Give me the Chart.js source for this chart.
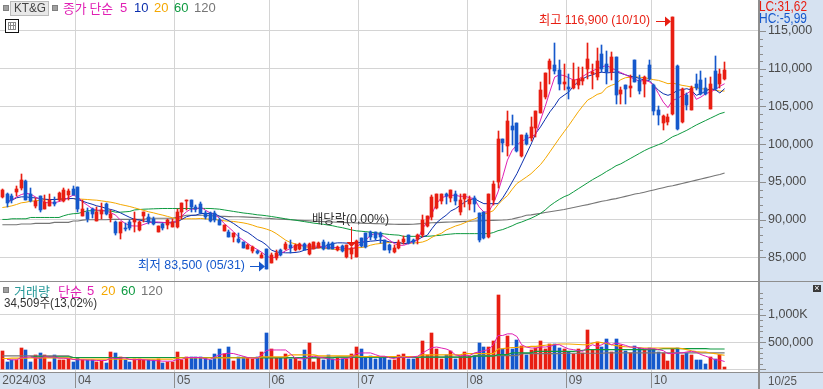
<!DOCTYPE html>
<html lang="ko"><head><meta charset="utf-8">
<style>html,body{margin:0;padding:0;background:#fff;overflow:hidden}canvas{display:block}</style>
<script src="https://cdn.jsdelivr.net/npm/chart.js@4/dist/chart.umd.min.js"></script>
</head><body><canvas id="c" width="823" height="389"></canvas>
<script>
const opens=[93030,93400,93100,93680,94170,95100,93460,91840,93100,91400,91840,92370,92680,92500,93330,94030,
94300,90530,91050,91360,89870,90790,92060,90180,89700,88250,88900,89700,89700,88640,90480,90310,90050,88380,89390,89300,89040,
89040,91050,92590,92680,91710,92150,90900,90830,90830,89940,88530,88400,87740,87430,87080,86190,85840,85840,84960,86100,
84300,84870,86050,86190,86630,85970,86190,86770,85440,86190,86320,87080,86850,86940,85970,86500,85090,85500,85090,
87520,88180,88400,88400,88300,87300,86630,85750,86320,87050,87930,87360,87400,87930,89130,90370,91560,92480,93450,92920,93450,91030,92790,92130,
92920,90900,91030,87710,92660,95000,100700,99820,102420,102760,98470,101180,100790,102100,104170,106270,110000,110440,109780,108030,
107590,107500,107900,108330,110000,109250,108900,111970,110660,109560,111540,106700,107800,107490,111190,108460,108020,110440,
107800,104590,102830,102960,104060,110310,102960,106480,104590,108020,108460,107490,104720,109650,108020,108680];
const closes=[93900,92250,92650,94030,95220,92680,92500,92500,91270,92370,92590,92060,93550,93900,93770,93330,
91360,91400,90050,90700,90970,91270,90750,90700,88250,89700,88730,88900,90050,89740,91050,89700,89430,89170,88860,89960,89700,
91050,92200,92680,91670,91400,90830,90300,89850,89940,89370,89280,87740,88180,86990,86320,86630,86410,85530,85310,83540,
85310,85660,85310,86850,86320,86630,86770,85970,86850,86990,86940,86060,86190,86190,86410,85880,86630,86200,87170,
86500,86370,87740,87520,87740,85970,85970,86320,87080,87490,86920,87050,87930,90010,90460,93010,93450,93450,93100,93900,92480,92660,93370,92790,
92130,87270,87620,93450,94780,100700,100220,103070,101890,99160,101230,100040,102240,104390,107240,109430,110970,109690,108030,108240,
107370,108470,108690,108800,111320,109560,110970,110000,109560,111540,106480,107140,107360,107670,108240,107050,108900,108680,
104410,103840,103710,103620,116900,102080,107360,105160,107490,107490,106610,106610,107930,107360,109250,109870];
const highs=[94100,93600,93460,94430,96000,95200,94250,92940,93100,93240,93380,93030,93680,94250,94120,94430,
94300,92590,91490,91490,91710,92240,92240,91270,89870,89700,89600,89960,91050,89830,91050,90750,90310,89170,89520,90050,90050,
91360,92200,92680,92680,91930,92370,91180,91050,91180,90170,89280,88620,88270,88180,87080,86850,86500,85970,85530,86100,
85530,85970,86190,87080,87300,86850,86940,86940,86940,87080,87000,87380,86990,87080,86500,86630,86630,86400,87300,
87520,88180,88530,88400,88400,87380,86850,86630,87300,87800,87930,87450,88160,90590,90460,93230,93450,93450,93590,93900,93810,93450,93370,93100,
93100,90900,91030,93450,95130,101700,100700,104390,103860,102760,101230,101540,103550,104390,108240,109430,111230,113470,111100,110660,
109340,110790,110220,110220,113420,110660,112760,113200,112410,112200,111540,107580,107800,109120,111190,109120,108990,111190,
108020,105030,103840,104060,116900,110440,107490,106790,107670,109340,109690,108810,108900,111630,109910,110880];
const lows=[92900,91700,92250,93100,93900,92590,92370,91580,91050,91360,91800,91840,92500,92370,92590,93240,
91050,90490,89700,90180,89830,90090,90620,89650,87980,87500,88550,88640,88420,88550,89740,89430,89300,88380,88640,88730,89000,
88860,90050,91270,91050,91050,90740,90050,89720,89720,89240,88530,87650,87080,86940,86320,86100,85530,85440,84870,83500,
84290,84700,85220,85970,85660,85880,85970,85970,85310,86100,86280,85970,86100,86100,85880,85790,84870,84780,85000,
86410,86200,87300,87300,86940,85970,85660,85660,86190,86830,86830,86740,86830,87710,89040,90010,91470,92040,92130,92350,91910,90590,91690,91340,
91030,87050,87490,87620,91910,94150,99020,98470,99910,99030,98280,99910,100440,101000,104080,106050,107940,109340,107150,107150,
106050,107370,107370,107810,108600,107370,108470,109560,108030,108460,105380,105380,105380,106260,108240,106700,106260,108460,
103840,102520,101860,102520,103840,101950,102830,104590,104500,107140,106480,106480,104630,107230,107490,108460];
const ma5=[null,92370,92590,93030,93330,93510,93380,93030,92680,92280,92240,92240,92410,92590,92940,93250,
93030,92370,91930,91490,91270,91270,91140,90920,90610,89960,89520,89210,89170,89170,89390,89610,89700,89700,89650,89610,89520,
89960,90480,91050,91450,91360,91710,91270,90920,90740,90170,89500,88970,88400,87740,87300,86850,86410,86060,85660,85180,
84910,85090,85530,85880,86190,86500,86630,86590,86500,86500,86500,86410,86320,86320,86320,86240,86150,86190,86320,
86940,87300,87960,88180,88050,87740,87300,86850,86630,86610,86830,87050,87360,88820,89700,90810,92130,92920,93100,93230,93230,93100,93100,92920,
92790,91690,91030,91030,92130,93680,95700,97900,99200,99900,100400,100700,101000,101300,103200,105000,107000,108900,109200,109100,
108800,108500,108600,109000,109400,109700,110000,110250,110440,110100,109780,109500,109200,108900,108600,108350,108460,108300,
107800,106700,105600,104850,105820,106040,106480,106700,107140,105950,106260,106700,106920,107230,107670,108020];
const ma10=[null,92370,92590,92900,93030,93030,92940,92900,92810,92720,92680,92680,92720,92760,92810,92810,
92680,92460,92240,92060,91840,91710,91490,91360,91190,90920,90610,90310,90040,89960,89820,89740,89650,89610,89610,89610,89700,
89700,90040,90400,90570,90610,90830,90830,90830,90780,90470,90170,89860,89500,89060,88620,88310,87870,87380,87080,86630,
85970,85750,85660,85620,85620,85660,85750,85970,86100,86190,86320,86410,86630,86850,86940,86940,86900,86850,86940,
86990,87080,87160,87210,87300,87210,87080,86990,86990,86830,86920,87190,87360,87720,87940,88820,89610,90140,90590,91160,91470,91910,92350,92660,
92790,92440,92130,92130,92130,92130,92900,93900,95000,96100,97400,98700,100000,101440,102300,103300,104300,105100,106050,106500,
106930,107700,108300,108700,109000,109200,109430,109550,109450,109500,109560,109400,109200,109000,108900,108700,108500,108460,
107800,107140,106700,106480,106700,107140,107230,107360,107140,106480,106700,107050,107360,107230,106790,107360];
const ma20=[91620,91710,91840,92020,92240,92320,92460,92500,92590,92630,92680,92680,92720,92760,92810,92810,
92760,92720,92680,92630,92590,92500,92410,92320,92190,92020,91890,91750,91580,91400,91230,91050,90920,90750,90610,90440,90260,
90130,90090,90130,90130,90130,90170,90120,90080,90030,89940,89860,89810,89770,89680,89590,89460,89280,89060,88930,88750,
88530,88180,87740,87300,86990,86810,86630,86410,86370,86320,86280,86240,86190,86100,86060,86020,85970,86150,86280,
86320,86410,86630,86770,86850,86940,86990,86990,86990,86830,86880,86920,86960,87050,87270,87670,87980,88200,88640,88900,89170,89350,89610,89880,
90100,90360,90720,90940,91200,92000,92660,93190,94030,94800,95220,95650,96100,96700,97300,98100,99000,99900,100800,101650,
102500,103400,104300,105100,105850,106200,106600,106800,107500,107800,108020,108550,108810,108880,108940,108880,108810,108680,
108550,108460,108250,108020,108100,107950,107800,107700,107580,107480,107360,107300,107230,107150,107050,107050];
const ma60=[90040,90040,90130,90130,90130,90130,90300,90300,90300,90300,90300,90300,90300,90530,90700,90800,
90830,91000,91190,91190,91190,91190,91190,91150,91000,91000,91050,91100,91300,91350,91400,91420,91450,91470,91490,91490,91490,
91490,91490,91490,91490,91490,91500,91500,91490,91450,91400,91300,91200,91100,91000,90900,90830,90750,90650,90600,90520,
90430,90330,90230,90120,90030,89950,89850,89750,89650,89550,89480,89400,89300,89200,89060,88950,88800,88650,88530,
88480,88420,88350,88270,88200,88120,88050,88000,87960,87800,87800,87800,87800,87800,87800,87850,87900,87950,88050,88100,88160,88160,88160,88160,
88160,88160,88160,88160,88300,88550,88700,88950,89200,89500,89700,89950,90200,90500,90840,91300,91850,92300,92700,93050,
93300,93700,94100,94500,94900,95300,95650,96000,96400,96750,97150,97400,97750,98100,98450,98800,99150,99450,
99700,99950,100200,100600,101000,101250,101550,101850,102200,102550,102850,103150,103450,103750,104050,104230];
const ma120=[89340,89340,89340,89340,89430,89430,89430,89520,89520,89520,89520,89650,89650,89650,89650,89830,
89830,89950,90000,90000,90000,90000,90000,90050,90050,90050,90050,90050,90050,90050,90050,90200,90200,90200,90200,90200,90200,
90350,90450,90600,90600,90600,90600,90600,90550,90500,90470,90450,90420,90400,90390,90380,90350,90320,90280,90230,90200,
90150,90100,90080,90050,90000,89970,89920,89880,89850,89810,89780,89750,89720,89700,89670,89650,89620,89600,89570,
89550,89520,89500,89480,89460,89440,89420,89400,89390,89390,89390,89400,89450,89500,89550,89600,89620,89650,89680,89700,89720,89750,89790,89810,
89830,89850,89880,89900,89920,89940,89960,90000,90100,90250,90400,90600,90650,90750,90840,90950,91050,91150,91250,91350,
91500,91620,91750,91880,92000,92150,92300,92450,92550,92700,92800,92950,93100,93250,93400,93500,93650,93800,
93950,94100,94250,94400,94500,94650,94800,94950,95100,95250,95400,95550,95700,95850,96000,96200];
const volumes=[343,132,169,169,397,361,132,271,301,271,144,271,163,163,199,132,
217,180,180,169,132,157,120,325,307,229,180,132,193,193,180,163,163,199,120,132,132,
325,180,223,223,229,229,205,163,289,379,289,415,150,229,229,205,181,229,325,668,
379,211,211,289,181,211,150,361,488,126,211,169,265,181,211,181,181,289,415,
379,211,241,199,211,235,169,169,271,289,181,181,211,524,259,668,373,199,259,331,181,241,325,241,
241,488,415,415,512,1355,373,614,373,542,421,271,361,391,524,373,470,470,391,373,
319,289,373,301,722,361,494,409,560,313,560,452,343,301,427,391,361,391,
373,313,301,150,373,385,271,301,271,169,169,90,229,199,271,48];
const volMa5=[null,181,175,175,211,223,229,211,205,235,223,229,205,205,199,181,
175,175,169,169,163,163,163,211,199,205,211,181,175,181,175,169,163,157,150,150,150,
181,181,217,217,217,217,193,181,229,265,289,295,289,265,241,217,205,205,271,349,
355,355,355,355,289,211,193,193,223,241,223,211,193,181,169,199,199,223,289,
301,301,301,271,241,241,211,199,223,223,217,229,241,301,349,397,409,391,373,337,265,247,259,253,
301,319,343,361,451,620,620,650,650,602,451,409,391,391,409,409,421,451,451,409,
373,361,343,331,409,451,421,451,500,451,482,463,439,409,409,391,379,373,
379,361,343,289,289,301,301,319,331,313,271,241,211,175,169,144];
const volMa20=[200,200,205,205,205,205,211,211,211,211,211,211,211,211,211,187,
187,187,187,187,187,187,187,187,187,187,187,187,187,187,187,187,187,187,187,187,187,
211,211,211,211,211,211,211,211,211,211,211,211,211,211,211,211,211,211,229,229,
229,229,229,229,265,265,265,265,265,265,247,247,247,247,247,247,247,247,247,
235,235,235,235,235,235,235,235,235,235,235,235,235,265,265,265,265,265,265,265,265,265,289,289,
289,289,289,289,289,373,380,390,400,403,410,410,421,421,430,440,450,455,463,463,
463,460,455,451,451,480,500,490,470,450,435,421,415,410,400,395,391,391,
391,391,391,391,391,391,380,361,340,325,319,319,300,289,270,259];
const volMa60=[null,null,null,null,null,null,229,229,229,229,229,229,229,229,229,217,
217,217,217,217,217,217,217,217,217,217,217,217,217,217,217,217,217,217,217,217,217,
217,217,217,217,217,217,217,217,217,217,217,217,217,217,217,217,217,217,211,211,
211,211,211,211,211,211,211,211,211,211,211,211,211,211,223,223,223,223,223,
223,223,223,223,223,223,223,223,223,223,223,223,223,223,223,223,223,223,223,223,223,223,223,223,
241,241,241,241,241,271,271,271,301,301,301,301,301,331,331,331,331,331,331,331,
331,331,340,350,361,361,361,361,361,361,361,361,361,361,361,361,361,361,
361,361,379,379,379,379,379,379,379,379,379,379,373,373,373,373];
const volMa120=[247,247,247,247,247,247,247,247,247,247,247,247,247,247,247,217,
217,217,217,217,217,217,217,217,217,217,217,217,217,217,217,217,217,217,217,217,217,
217,217,217,217,217,217,217,217,217,217,217,217,217,217,217,217,217,217,217,217,
217,217,217,217,217,217,217,217,217,217,223,223,223,223,223,223,223,223,223,
223,223,223,223,223,223,223,223,223,223,223,223,223,223,223,223,223,223,223,223,223,223,223,223,
253,253,253,253,253,253,253,253,253,253,289,289,289,289,289,289,289,289,289,295,
295,295,295,295,295,295,295,295,301,301,301,301,301,301,301,301,301,301,
301,301,301,301,301,301,301,301,301,301,301,301,301,301,301,301];
const monthTicks={16:'04',37:'05',57:'06',76:'07',99:'08',120:'09',138:'10'};
const firstTick='2024/03';
const endTick='10/25';
const priceTicks=[85000,90000,95000,100000,105000,110000,115000];
const volTicks=[0,500000,1000000];
const labels=Array.from({length:161},(_,i)=>i);
const NAR='"Liberation Sans Narrow","Liberation Sans","Noto Sans CJK KR",sans-serif';
const RED='#E81E12',BLUE='#1558CC',MAG='#E020B4',NAVY='#0B2FAE',ORG='#F5A800',GRN='#0E9A40',GRY='#767676',GRID='#D4D4D4',PANEL='#D6E2F1';
const isUp=i=>closes[i]>=opens[i];
const candleCol=ctx=>isUp(ctx.dataIndex)?RED:BLUE;
const line=(data,col,yAxisID,order,w)=>({type:'line',data,borderColor:col,borderWidth:w,pointRadius:0,yAxisID,order,tension:0,spanGaps:false});
const zeroPad=s=>{s.paddingLeft=s.paddingRight=s.paddingTop=s.paddingBottom=0;};
const deco={id:'deco',
beforeDraw(ch){const c=ch.ctx;c.save();c.fillStyle='#fff';c.fillRect(0,0,823,389);c.fillStyle=PANEL;c.fillRect(759,0,64,389);c.fillRect(0,372,823,17);c.restore();},
beforeDatasetsDraw(ch){
  ch.data.datasets.forEach((d,di)=>{if(d.type==='line')return;ch.getDatasetMeta(di).data.forEach(el=>{
    el.x=Math.floor(el.x)+0.5;el.y=Math.round(el.y);el.base=Math.round(el.base);
    if(el.base===el.y)el.base=el.y+1;el.height=el.base-el.y;});});
},
afterDraw(ch){const c=ch.ctx,X=ch.scales.x,P=ch.scales.y,V=ch.scales.v;c.save();
  const t=(s,x,y,col,font,al,mw)=>{c.fillStyle=col;c.font=font;c.textAlign=al||'left';c.textBaseline='middle';if(mw)c.fillText(s,x,y,mw);else c.fillText(s,x,y);};
  c.fillStyle='#8E8E8E';c.fillRect(0,281,823,1);c.fillRect(758,0,2,389);c.fillRect(0,372,823,1);
  c.fillStyle='#8E8E8E';
  for(let v=85000;v<=115000;v+=1000){const y=Math.round(P.getPixelForValue(v));c.fillRect(760,y,v%5000?3:6,1);}
  for(let v=0;v<=1400000;v+=100000){const y=Math.round(V.getPixelForValue(v));c.fillRect(760,y,v%500000?3:6,1);}
  t('LC:31,62',759,7,RED,'15px '+NAR,'left',48);t('HC:-5,99',759,19,BLUE,'15px '+NAR,'left',48);
  t(endTick,768,381,'#555','13px '+NAR,'left',29);
  c.fillStyle='#3A3A3A';c.fillRect(813,285,8,7);t('×',817,288.5,'#fff','9px sans-serif','center');
  const sq=(x,y)=>{c.fillStyle='#A0A0A0';c.fillRect(x,y,5,5);c.strokeStyle='#808080';c.strokeRect(x-.5,y-.5,5,5);};
  sq(4,6);sq(53,6);
  c.fillStyle='#E8E8E8';c.fillRect(10,1,38,15);c.strokeStyle='#BBB';c.strokeRect(10.5,1.5,38,14);
  const LF='13px '+NAR,KF='13px "Noto Sans CJK KR",sans-serif';
  t('KT&G',14,8.5,'#444',LF,'left',32);t('종가 단순',63,8.5,MAG,KF,'left',50);t('5',120,8.5,MAG,LF);t('10',134,8.5,NAVY,LF);t('20',154,8.5,ORG,LF);t('60',174,8.5,GRN,LF);t('120',194,8.5,GRY,LF);
  c.fillStyle='#fff';c.fillRect(5,19,14,14);c.strokeStyle='#111';c.strokeRect(5.5,19.5,13,13);
  c.strokeStyle='#8A8A8A';c.strokeRect(8.5,22.5,7,7);c.beginPath();c.moveTo(8,25.5);c.lineTo(16,25.5);c.moveTo(10.5,22);c.lineTo(10.5,30);c.moveTo(13.5,22);c.lineTo(13.5,30);c.stroke();
  sq(4,288);t('거래량',14,291,'#2A9A9A',KF,'left',36);t('단순',58,291,MAG,KF,'left',24);t('5',87,291,MAG,LF);t('20',101,291,ORG,LF);t('60',121,291,GRN,LF);t('120',141,291,GRY,LF);
  t('34,509주(13,02%)',4,303,'#333',LF,'left',93);
  const hx=Math.floor(X.getPixelForValue(142)),hy=21.5;
  t('최고 116,900 (10/10)',650,hy-1,RED,LF,'right',111);
  c.fillStyle=RED;c.fillRect(656,hy-.5,10,1);c.beginPath();c.moveTo(hx-1,hy);c.lineTo(hx-7,hy-5);c.lineTo(hx-7,hy+5);c.fill();
  const lx=Math.floor(X.getPixelForValue(56)),ly=266.5;
  t('최저 83,500 (05/31)',245,ly-1,BLUE,LF,'right',107);
  c.fillStyle=BLUE;c.fillRect(250,ly-.5,10,1);c.beginPath();c.moveTo(lx-1,ly);c.lineTo(lx-7,ly-5);c.lineTo(lx-7,ly+5);c.fill();
  const dx=Math.floor(X.getPixelForValue(74));
  t('배당락(0,00%)',389,219,'#333',LF,'right',77);
  c.fillStyle=RED;c.fillRect(dx,227,1,16);c.beginPath();c.moveTo(dx+.5,247);c.lineTo(dx-4.5,242);c.lineTo(dx+5.5,242);c.fill();
  c.restore();
}};
new Chart(document.getElementById('c'),{data:{labels,datasets:[
 {type:'bar',data:lows.map((l,i)=>[l,highs[i]]),backgroundColor:candleCol,barThickness:1,grouped:false,yAxisID:'y',order:1,borderSkipped:false},
 {type:'bar',data:opens.map((o,i)=>[o,closes[i]]),backgroundColor:candleCol,barThickness:3,grouped:false,yAxisID:'y',order:0,borderSkipped:false},
 line(ma120,GRY,'y',6,1.1),line(ma60,GRN,'y',5,1),line(ma20,ORG,'y',4,1),line(ma10,NAVY,'y',3,1),line(ma5,MAG,'y',2,1),
 {type:'bar',data:volumes.map(v=>v*1000),backgroundColor:candleCol,barThickness:3,grouped:false,yAxisID:'v',order:14},
 line(volMa120.map(v=>v*1000),GRY,'v',13,1.2),line(volMa60.map(v=>v==null?null:v*1000),GRN,'v',12,1.2),line(volMa20.map(v=>v*1000),ORG,'v',11,1.1),line(volMa5.map(v=>v==null?null:v*1000),MAG,'v',10,1)
]},plugins:[deco],options:{responsive:false,animation:false,events:[],devicePixelRatio:1,
 layout:{padding:0},
 plugins:{legend:{display:false},tooltip:{enabled:false}},
 scales:{
  x:{type:'category',offset:true,position:'bottom',afterFit(s){s.height=17;zeroPad(s);},
    border:{display:false},
    grid:{offset:true,tickLength:16,color:c=>monthTicks[c.index]?GRID:'rgba(0,0,0,0)',tickColor:c=>monthTicks[c.index]?'#8E8E8E':'rgba(0,0,0,0)',lineWidth:1},
    ticks:{autoSkip:false,maxRotation:0,minRotation:0,align:'start',padding:-15,color:'#555',font:{size:12,family:NAR},
      callback:(v,i)=>i===0?firstTick:(monthTicks[i]||'')}},
  y:{type:'linear',position:'right',stack:'r',stackWeight:281,min:81887,max:119106,
    afterBuildTicks(s){s.ticks=priceTicks.map(value=>({value}));},afterFit(s){s.width=63;zeroPad(s);},
    border:{display:false},grid:{color:GRID,drawTicks:false,lineWidth:1},
    ticks:{padding:8,color:'#4A4A4A',font:{size:12.5,family:NAR},callback:v=>v.toLocaleString('en-US')}},
  v:{type:'linear',position:'right',stack:'r',stackWeight:91,min:-48000,max:1617000,
    afterBuildTicks(s){s.ticks=volTicks.map(value=>({value}));},afterFit(s){s.width=63;zeroPad(s);},
    border:{display:false},grid:{color:GRID,drawTicks:false,lineWidth:1},
    ticks:{padding:8,color:'#4A4A4A',font:{size:12.5,family:NAR},callback:v=>v===0?'':(v>=1000000?(v/1000).toLocaleString('en-US')+'K':v.toLocaleString('en-US'))}}
 }}});
</script></body></html>
